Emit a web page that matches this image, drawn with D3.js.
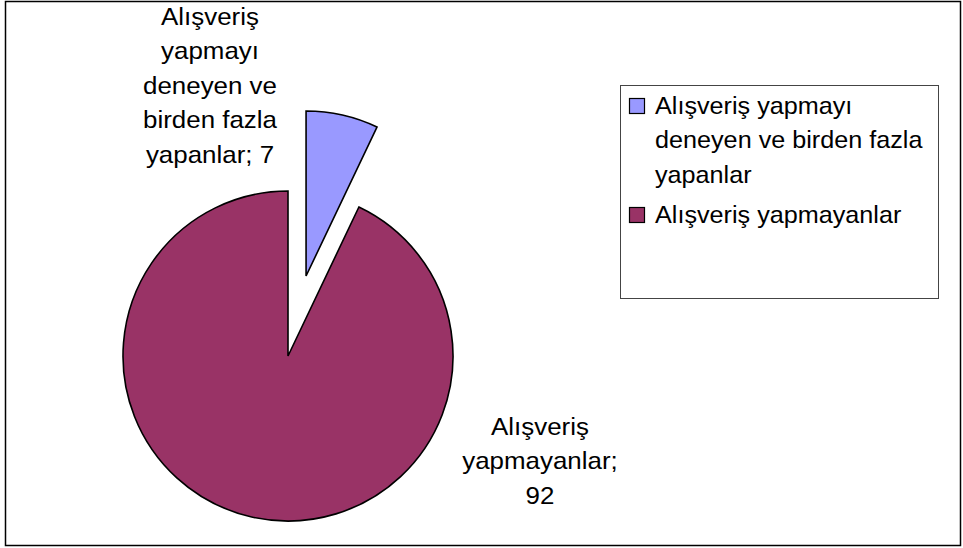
<!DOCTYPE html>
<html>
<head>
<meta charset="utf-8">
<script src="https://cdn.jsdelivr.net/npm/d3@7"></script>
<style>
  body { margin: 0; background: #fff; }
  text { font-family: "Liberation Sans", Arial, sans-serif; fill: #000; }
</style>
</head>
<body>
<svg id="chart"></svg>
<script>
// data
const categories = ['Alışveriş yapmayı deneyen ve birden fazla yapanlar', 'Alışveriş yapmayanlar'];
const values = [7, 92];
const sliceLabels = [
  ['Alışveriş', 'yapmayı', 'deneyen ve', 'birden fazla', 'yapanlar; 7'],
  ['Alışveriş', 'yapmayanlar;', '92']
];
const legendLines = [
  ['Alışveriş yapmayı', 'deneyen ve birden fazla', 'yapanlar'],
  ['Alışveriş yapmayanlar']
];
const colors = ['#9999ff', '#993366'];

const width = 963, height = 548;
const cx = 288, cy = 356, radius = 165;
const explode = 82;

const svg = d3.select('#chart')
  .attr('width', width)
  .attr('height', height);

// outer frame
svg.append('rect')
  .attr('x', 5.5).attr('y', 1.5)
  .attr('width', 955).attr('height', 544)
  .attr('fill', 'none')
  .attr('stroke', '#000')
  .attr('stroke-width', 1.5);

const pie = d3.pie().sort(null).value(d => d);
const arc = d3.arc().innerRadius(0).outerRadius(radius);
const arcs = pie(values);

const g = svg.append('g').attr('transform', `translate(${cx},${cy})`);

g.selectAll('path')
  .data(arcs)
  .enter().append('path')
    .attr('d', arc)
    .attr('fill', (d, i) => colors[i])
    .attr('stroke', '#000')
    .attr('stroke-width', 1.6)
    .attr('transform', (d, i) => {
      if (i !== 0) return null;
      //pull out the small slice
      const a = (d.startAngle + d.endAngle) / 2;
      return `translate(${explode * Math.sin(a)},${-explode * Math.cos(a)})`;
    });

// slice labels
const labelPos = [{ x: 210, y: 25 }, { x: 540, y: 435 }];
const lineH = 34.5;
sliceLabels.forEach((lines, i) => {
  const t = svg.append('text')
    .attr('transform', `translate(${labelPos[i].x},${labelPos[i].y}) scale(1.08,1)`)
    .attr('text-anchor', 'middle')
    .style('font-size', '24px');
  lines.forEach((l, j) => {
    t.append('tspan').attr('x', 0).attr('y', j * lineH).text(l);
  });
});

// legend
svg.append('rect')
  .attr('x', 620.5).attr('y', 85.5)
  .attr('width', 318).attr('height', 213)
  .attr('fill', '#fff')
  .attr('stroke', '#444')
  .attr('stroke-width', 1);

const legendY = [114, 223];
const legendLineH = 34.5;
categories.forEach((c, i) => {
  svg.append('rect')
    .attr('x', 629.5).attr('y', legendY[i] - 15.5)
    .attr('width', 15).attr('height', 15)
    .attr('fill', colors[i])
    .attr('stroke', '#000')
    .attr('stroke-width', 1.2);
  const t = svg.append('text')
    .attr('transform', `translate(655,${legendY[i]}) scale(1.05,1)`)
    .style('font-size', '24px');
  legendLines[i].forEach((l, j) => {
    t.append('tspan').attr('x', 0).attr('y', j * legendLineH).text(l);
  });
});
</script>
</body>
</html>
